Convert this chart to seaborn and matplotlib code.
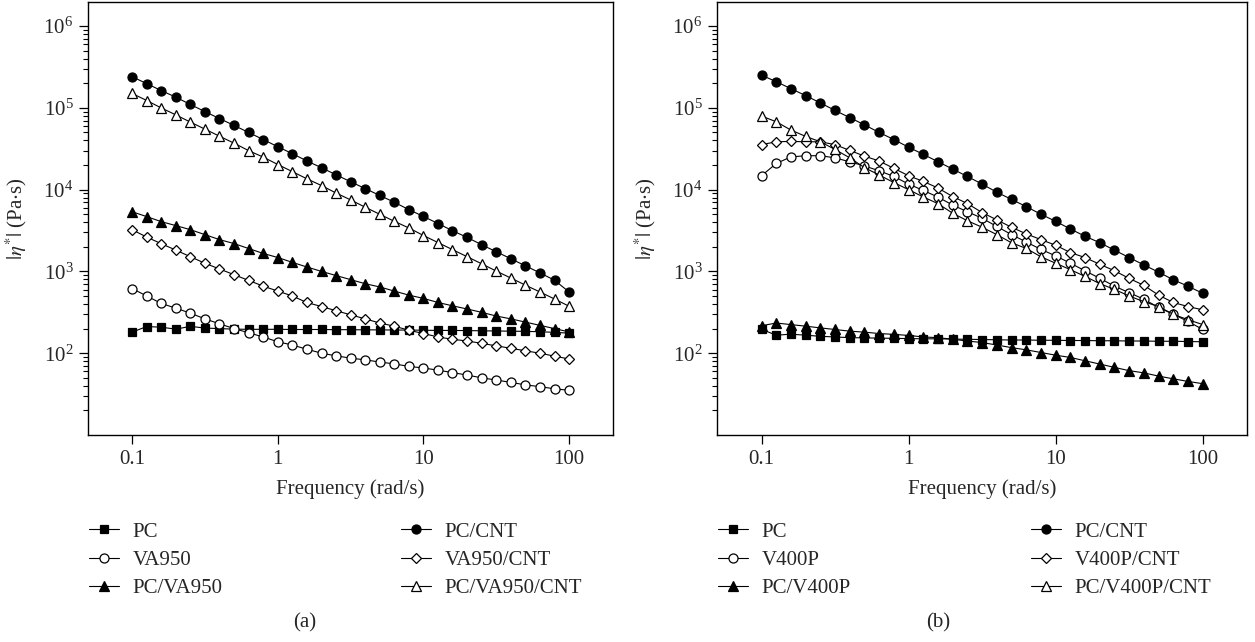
import matplotlib
matplotlib.use("Agg")
import matplotlib.pyplot as plt
import matplotlib.ticker as mticker
import numpy as np
import seaborn as sns

# angular frequency (rad/s), 10 points per decade
freq = [0.1, 0.126, 0.158, 0.2, 0.251, 0.316, 0.398, 0.501, 0.631, 0.794,
        1.0, 1.26, 1.58, 2.0, 2.51, 3.16, 3.98, 5.01, 6.31, 7.94,
        10.0, 12.6, 15.8, 20.0, 25.1, 31.6, 39.8, 50.1, 63.1, 79.4, 100.0]

# panel (a)
a_pc = [181, 212, 208, 197, 213, 203, 200, 197, 196, 196, 196, 195, 195, 195, 194, 194,
        193, 193, 192, 192, 191, 190, 190, 189, 188, 187, 186, 185, 183, 180, 176]
a_va950 = [617, 501, 407, 355, 309, 263, 229, 200, 178, 158, 138, 126, 112, 100, 93, 87,
           83, 78, 74, 69, 66, 62, 58, 54, 50, 47, 44, 41, 39, 36.7, 35.2]
a_pc_va950 = [5370, 4680, 4070, 3630, 3240, 2820, 2450, 2190, 1905, 1660, 1480, 1290, 1135,
              1000, 891, 794, 708, 646, 575, 513, 468, 417, 380, 347, 316, 285, 263, 240,
              219, 200, 182]
a_pc_cnt = [2.40e5, 1.98e5, 1.63e5, 1.35e5, 1.10e5, 9.0e4, 7.4e4, 6.1e4, 5.0e4, 4.1e4,
            3.35e4, 2.75e4, 2.25e4, 1.85e4, 1.52e4, 1.25e4, 1.03e4, 8.5e3, 7.0e3, 5.7e3,
            4.7e3, 3.85e3, 3.15e3, 2.6e3, 2.12e3, 1.74e3, 1.43e3, 1.17e3, 960, 780, 560]
a_va950_cnt = [3236, 2630, 2188, 1820, 1514, 1259, 1072, 912, 776, 661, 575, 501, 417, 372,
               331, 295, 263, 234, 214, 191, 174, 158, 148, 141, 132, 123, 115, 107, 100,
               92, 85]
a_pc_va950_cnt = [1.50e5, 1.23e5, 1.00e5, 8.2e4, 6.7e4, 5.5e4, 4.5e4, 3.7e4, 3.0e4, 2.5e4,
                  2.03e4, 1.66e4, 1.36e4, 1.12e4, 9.1e3, 7.5e3, 6.1e3, 5.0e3, 4.1e3, 3.4e3,
                  2.75e3, 2.25e3, 1.85e3, 1.51e3, 1.24e3, 1.01e3, 830, 680, 560, 460, 375]

# panel (b)
b_pc = [196, 166, 171, 166, 161, 158, 155, 154, 153, 152, 151, 150, 150, 149, 148, 147,
        146, 145, 145, 144, 144, 143, 143, 142, 142, 141, 141, 140, 140, 139, 138]
b_v400p = [14800, 20900, 25100, 26000, 26000, 24500, 21900, 19500, 17000, 14500, 11700,
           9770, 8130, 6460, 5370, 4470, 3550, 2820, 2290, 1860, 1550, 1260, 1020, 822,
           661, 550, 457, 363, 299, 245, 195]
b_pc_v400p = [217, 234, 224, 214, 204, 195, 186, 181, 174, 170, 165, 158, 155, 148, 141,
              135, 126, 117, 110, 102, 94.6, 88.7, 80.9, 73.6, 67.1, 61.2, 57.5, 52.5,
              48.6, 45.2, 42.4]
b_pc_cnt = [2.51e5, 2.09e5, 1.72e5, 1.41e5, 1.15e5, 9.3e4, 7.6e4, 6.2e4, 5.0e4, 4.1e4,
            3.3e4, 2.7e4, 2.2e4, 1.78e4, 1.45e4, 1.17e4, 9.3e3, 7.6e3, 6.2e3, 5.0e3,
            4.1e3, 3.3e3, 2.7e3, 2.24e3, 1.82e3, 1.48e3, 1.2e3, 980, 790, 660, 540]
b_v400p_cnt = [35500, 38500, 38900, 38500, 38500, 35500, 30200, 25700, 22400, 18200, 14800,
               12600, 10500, 8220, 6760, 5250, 4270, 3470, 2880, 2450, 2090, 1700, 1480,
               1220, 1020, 822, 676, 513, 417, 372, 339]
b_pc_v400p_cnt = [79400, 67600, 53700, 44700, 38500, 31000, 24500, 18600, 15100, 12200,
                  10000, 8130, 6760, 5130, 4170, 3470, 2820, 2240, 1910, 1510, 1260, 1050,
                  871, 708, 603, 501, 427, 372, 299, 257, 224]

labels_a = ["PC", "VA950", "PC/VA950", "PC/CNT", "VA950/CNT", "PC/VA950/CNT"]
labels_b = ["PC", "V400P", "PC/V400P", "PC/CNT", "V400P/CNT", "PC/V400P/CNT"]
series_a = [a_pc, a_va950, a_pc_va950, a_pc_cnt, a_va950_cnt, a_pc_va950_cnt]
series_b = [b_pc, b_v400p, b_pc_v400p, b_pc_cnt, b_v400p_cnt, b_pc_v400p_cnt]

x_ticks = [0.1, 1, 10, 100]
x_ticklabels = ["0.1", "1", "10", "100"]
y_ticks = [1e2, 1e3, 1e4, 1e5, 1e6]

# marker, filled?, size
styles = [("s", True, 5.5), ("o", False, 6.5), ("^", True, 7),
          ("o", True, 6.5), ("D", False, 5.5), ("^", False, 7)]

sns.set_style("ticks")
plt.rcParams["font.family"] = ["Liberation Serif", "DejaVu Serif"]
plt.rcParams["mathtext.fontset"] = "stix"
FS = 15

fig = plt.figure(figsize=(12.55, 6.42), dpi=100)
W, H = 1255, 642
ax_a = fig.add_axes([88 / W, 1 - 435 / H, 525 / W, 433 / H])
ax_b = fig.add_axes([717 / W, 1 - 435 / H, 530 / W, 433 / H])


def draw_panel(ax, series, labels):
    for vals, name, (mk, filled, ms) in zip(series, labels, styles):
        sns.lineplot(x=np.array(freq), y=np.array(vals), ax=ax, color="black",
                     lw=0.8, marker=mk, markersize=ms,
                     markerfacecolor="black" if filled else "white",
                     markeredgecolor="black", markeredgewidth=0.9,
                     label=name, legend=False, zorder=3)
    ax.set_xscale("log")
    ax.set_yscale("log")
    ax.set_xlim(0.0498, 200)
    ax.set_ylim(10, 1.97e6)
    ax.xaxis.set_major_locator(mticker.FixedLocator(x_ticks))
    ax.xaxis.set_major_formatter(mticker.FixedFormatter(x_ticklabels))
    ax.xaxis.set_minor_locator(mticker.NullLocator())
    ax.yaxis.set_major_locator(mticker.FixedLocator(y_ticks))
    ax.yaxis.set_minor_locator(mticker.LogLocator(base=10, subs=np.arange(2, 10), numticks=10))
    ax.yaxis.set_major_formatter(mticker.LogFormatterSciNotation())
    ax.yaxis.set_minor_formatter(mticker.NullFormatter())
    ax.tick_params(which="major", direction="out", length=6.5, width=0.9, labelsize=FS,
                   pad=4, color="black")
    ax.tick_params(which="minor", direction="out", length=3.5, width=0.8, color="black")
    ax.tick_params(top=False, right=False, which="both")
    for sp in ax.spines.values():
        sp.set_linewidth(1.0)
        sp.set_color("black")
        sp.set_visible(True)
    ax.set_xlabel("Frequency (rad/s)", fontsize=FS, labelpad=8)
    ax.set_ylabel(r"$|\eta^{*}|$ (Pa$\cdot$s)", fontsize=FS, labelpad=10)
    ax.grid(False)


draw_panel(ax_a, series_a, labels_a)
draw_panel(ax_b, series_b, labels_b)

legend_top = 1 - 522 / H
for ax, xs in [(ax_a, (89, 401)), (ax_b, (718, 1031))]:
    handles, labs = ax.get_legend_handles_labels()
    for i, x0 in enumerate(xs):
        fig.legend(handles[3 * i:3 * i + 3], labs[3 * i:3 * i + 3],
                   loc="upper left", bbox_to_anchor=(x0 / W, legend_top),
                   frameon=False, borderpad=0, borderaxespad=0,
                   handlelength=1.45, handletextpad=0.65, labelspacing=0.42,
                   fontsize=FS)

fig.text(305 / W, 1 - 623 / H, "(a)", ha="center", va="center", fontsize=FS)
fig.text(938 / W, 1 - 623 / H, "(b)", ha="center", va="center", fontsize=FS)

fig.savefig("out.png", dpi=100)
plt.close(fig)
